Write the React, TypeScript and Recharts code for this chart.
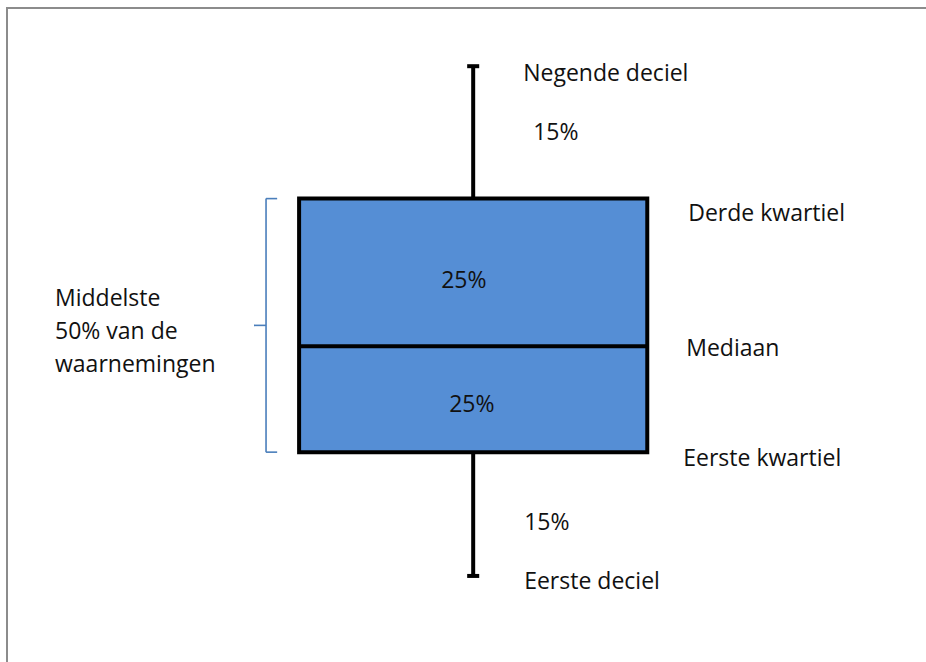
import {
  ReferenceArea,
  ReferenceLine,
  Scatter,
  ScatterChart,
  XAxis,
  YAxis,
} from "recharts";

// Schematic box plot: y runs 0-100 (schematic units), x runs 0-100 across the canvas.
const STAT_NAMES = ["Eerste deciel", "Eerste kwartiel", "Mediaan", "Derde kwartiel", "Negende deciel"];
const STAT_VALUES = [13, 31.7, 47.7, 70, 90];
// share of observations between consecutive stats (bottom to top)
const SHARE_LABELS = ["15%", "25%", "25%", "15%"];
const BRACE_LINES = ["Middelste", "50% van de", "waarnemingen"];

const BOX_X = [32.3, 69.9];
const WHISKER_X = 51.1;
const CAP_HALF = 0.65;
const BRACE_X = 28.73;
const BRACE_HOOK = 1.2;
const BRACE_TIP = 1.3;

const W = 926;
const H = 662;
const FONT = "'Open Sans', 'Noto Sans', sans-serif";
const FONT_SIZE = 23;
const TEXT_COLOR = "#111";
const BOX_FILL = "#558ED5";
const BRACE_COLOR = "#4A7EBB";

const [d1, q1, med, q3, d9] = STAT_VALUES;
const mid = (a: number, b: number) => (a + b) / 2;

// pixel nudges for each annotation (dx, dy to the text baseline)
const STAT_OFFSETS = [
  { anchorX: WHISKER_X, dx: 51, dy: 13 },
  { anchorX: BOX_X[1], dx: 36, dy: 14 },
  { anchorX: BOX_X[1], dx: 39, dy: 10 },
  { anchorX: BOX_X[1], dx: 41, dy: 22 },
  { anchorX: WHISKER_X, dx: 50, dy: 15 },
];
const SHARE_OFFSETS = [
  { dx: 51, dy: 16 },
  { dx: -24, dy: 13 },
  { dx: -32, dy: 16 },
  { dx: 60, dy: 8 },
];

const annotations = [
  ...STAT_NAMES.map((name, i) => ({
    x: STAT_OFFSETS[i].anchorX,
    y: STAT_VALUES[i],
    lines: [name],
    dx: STAT_OFFSETS[i].dx,
    dy: STAT_OFFSETS[i].dy,
  })),
  ...SHARE_LABELS.map((s, i) => ({
    x: WHISKER_X,
    y: mid(STAT_VALUES[i], STAT_VALUES[i + 1]),
    lines: [s],
    dx: SHARE_OFFSETS[i].dx,
    dy: SHARE_OFFSETS[i].dy,
  })),
  {
    x: BRACE_X - BRACE_TIP,
    y: mid(q1, q3),
    lines: BRACE_LINES,
    dx: -199,
    dy: -19,
  },
];

function TextMark(props: any) {
  const { cx, cy, payload } = props;
  return (
    <text
      x={cx + payload.dx}
      y={cy + payload.dy}
      fontFamily={FONT}
      fontSize={FONT_SIZE}
      fill={TEXT_COLOR}
      style={{ fontVariantLigatures: "none" }}
    >
      {payload.lines.map((l: string, i: number) => (
        <tspan key={i} x={cx + payload.dx} dy={i === 0 ? 0 : 33}>
          {l}
        </tspan>
      ))}
    </text>
  );
}

const blackLine = { stroke: "#000", strokeWidth: 4, ifOverflow: "visible" as const };
const braceLine = { stroke: BRACE_COLOR, strokeWidth: 1.6, ifOverflow: "visible" as const };

export default function App() {
  return (
    <div style={{ position: "absolute", left: 0, top: 0, width: W, height: H, background: "#fff", overflow: "hidden" }}>
      <div
        style={{
          position: "absolute",
          left: 6,
          top: 7,
          width: W + 20,
          height: H + 20,
          borderTop: "2px solid #8c8c8c",
          borderLeft: "2px solid #8c8c8c",
        }}
      />
      <div style={{ position: "absolute", left: 0, top: 0 }}>
        <ScatterChart width={W} height={H} margin={{ top: 0, right: 0, bottom: 0, left: 0 }}>
          <XAxis type="number" dataKey="x" domain={[0, 100]} hide />
          <YAxis type="number" dataKey="y" domain={[0, 100]} hide />

          {/* whiskers */}
          <ReferenceLine segment={[{ x: WHISKER_X, y: d9 }, { x: WHISKER_X, y: q3 }]} {...blackLine} />
          <ReferenceLine segment={[{ x: WHISKER_X, y: q1 }, { x: WHISKER_X, y: d1 }]} {...blackLine} />
          <ReferenceLine segment={[{ x: WHISKER_X - CAP_HALF, y: d9 }, { x: WHISKER_X + CAP_HALF, y: d9 }]} {...blackLine} />
          <ReferenceLine segment={[{ x: WHISKER_X - CAP_HALF, y: d1 }, { x: WHISKER_X + CAP_HALF, y: d1 }]} {...blackLine} />

          {/* box */}
          <ReferenceArea
            x1={BOX_X[0]}
            x2={BOX_X[1]}
            y1={q1}
            y2={q3}
            fill={BOX_FILL}
            fillOpacity={1}
            stroke="#000"
            strokeWidth={4}
            ifOverflow="visible"
          />
          <ReferenceLine segment={[{ x: BOX_X[0], y: med }, { x: BOX_X[1], y: med }]} {...blackLine} />

          {/* brace for the middle 50% */}
          <ReferenceLine segment={[{ x: BRACE_X, y: q3 }, { x: BRACE_X, y: q1 }]} {...braceLine} />
          <ReferenceLine segment={[{ x: BRACE_X, y: q3 }, { x: BRACE_X + BRACE_HOOK, y: q3 }]} {...braceLine} />
          <ReferenceLine segment={[{ x: BRACE_X, y: q1 }, { x: BRACE_X + BRACE_HOOK, y: q1 }]} {...braceLine} />
          <ReferenceLine segment={[{ x: BRACE_X - BRACE_TIP, y: mid(q1, q3) }, { x: BRACE_X, y: mid(q1, q3) }]} {...braceLine} />

          <Scatter data={annotations} shape={TextMark} isAnimationActive={false} />
        </ScatterChart>
      </div>
    </div>
  );
}
